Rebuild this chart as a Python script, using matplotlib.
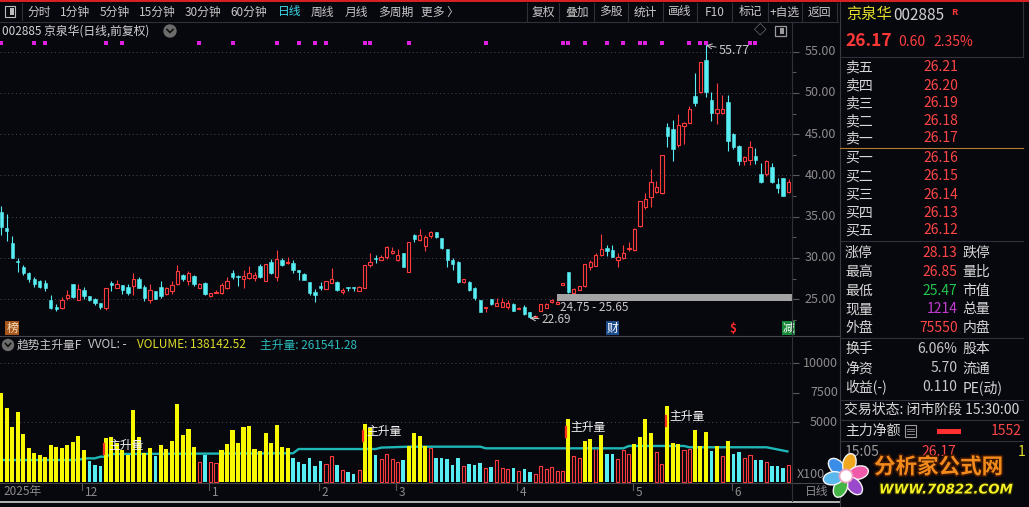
import matplotlib
matplotlib.use('Agg')
import matplotlib.pyplot as plt
import matplotlib.transforms as mtrans
import matplotlib.patheffects as pe
from matplotlib.lines import Line2D
from matplotlib.patches import Rectangle, Ellipse, Circle
import numpy as np

plt.rcParams['font.family'] = ['Noto Sans CJK SC', 'DejaVu Sans']

# ---- daily candles ----
opens = [35.6, 33.6, 31.8, 29.6, 28.9, 28.2, 27.4, 27.2, 27.0, 24.9, 24.1, 23.9,
         25.1, 26.8, 24.9, 26.1, 25.4, 25.0, 24.5, 23.9, 26.95, 26.4, 26.7, 26.5,
         26.6, 27.4, 26.5, 24.9, 26.0, 26.5, 25.6, 26.05, 26.85, 27.9, 27.25, 27.8,
         26.3, 27.0, 25.4, 25.7, 25.7, 26.3, 28.15, 27.8, 27.4, 27.55, 27.55, 29.0,
         27.25, 29.55, 27.65, 29.75, 29.35, 29.35, 28.45, 28.05, 27.1, 25.85, 26.6, 26.2,
         27.0, 27.1, 25.9, 26.4, 26.35, 26.05, 26.4, 29.1, 30.0, 29.75, 30.1, 30.6,
         29.75, 30.55, 28.35, 32.75, 32.15, 31.45, 32.65, 33.2, 32.4, 31.05, 29.75, 29.55,
         27.05, 27.1, 26.3, 24.9, 23.9, 25.0, 24.2, 24.1, 24.0, 24.4, 23.85, 24.1,
         23.5, 22.8, 23.6, 23.95, 24.7, 24.45, 26.75, 28.25, 25.8, 26.1, 26.55, 28.9,
         29.05, 30.35, 31.2, 30.95, 29.75, 29.95, 31.1, 31.0, 33.85, 36.2, 37.4, 38.05,
         37.9, 45.85, 45.6, 43.7, 46.0, 46.3, 49.65, 50.15, 54.0, 49.2, 47.6, 47.6,
         48.9, 45.0, 43.55, 41.7, 41.9, 42.35, 40.15, 40.2, 41.05, 38.95, 39.65, 38.05]
highs = [36.3, 35.3, 32.7, 30.0, 29.1, 28.35, 27.65, 27.3, 27.3, 25.5, 24.4, 25.3,
         26.1, 26.9, 26.9, 26.5, 25.4, 25.2, 24.6, 26.3, 27.25, 27.3, 26.7, 26.8,
         28.15, 27.65, 26.7, 26.8, 26.0, 27.25, 26.45, 27.25, 29.2, 28.05, 28.45, 27.95,
         27.0, 27.1, 25.8, 26.1, 27.0, 27.65, 28.55, 27.95, 28.55, 29.0, 28.35, 29.25,
         29.25, 29.85, 30.95, 29.95, 30.1, 29.75, 28.55, 28.15, 27.1, 26.2, 27.1, 27.25,
         28.8, 27.25, 26.3, 26.5, 26.5, 26.6, 29.15, 30.6, 30.3, 30.3, 31.4, 31.3,
         31.1, 30.6, 31.9, 32.95, 33.5, 32.75, 33.3, 33.2, 32.4, 31.05, 29.95, 29.65,
         27.5, 27.25, 26.5, 24.95, 24.05, 25.0, 25.1, 25.1, 24.95, 24.5, 24.0, 24.3,
         23.5, 23.0, 24.4, 24.5, 25.0, 24.8, 26.95, 28.25, 26.4, 26.6, 29.3, 29.8,
         30.55, 32.9, 31.6, 31.6, 30.55, 31.6, 31.9, 33.65, 36.9, 37.9, 40.75, 39.35,
         42.5, 46.4, 46.7, 47.5, 46.5, 48.4, 52.4, 53.8, 55.77, 50.1, 51.15, 49.7,
         49.8, 45.1, 43.65, 42.35, 44.2, 43.35, 41.5, 41.85, 41.5, 39.7, 39.7, 39.55]
lows = [32.8, 32.0, 30.0, 28.35, 27.9, 27.1, 26.5, 26.3, 26.05, 23.85, 23.6, 23.85,
        24.9, 25.2, 24.9, 25.0, 24.8, 24.35, 23.85, 23.7, 25.95, 26.3, 25.65, 25.55,
        25.55, 26.3, 24.8, 24.6, 25.0, 25.2, 25.45, 25.6, 26.75, 27.2, 26.75, 26.6,
        26.3, 25.45, 25.3, 25.7, 25.6, 26.2, 27.5, 26.6, 26.3, 27.4, 27.25, 27.6,
        27.25, 28.1, 27.25, 29.05, 29.3, 28.15, 27.35, 27.35, 25.55, 24.7, 26.1, 26.2,
        27.0, 26.0, 25.6, 25.95, 25.95, 26.05, 26.4, 28.95, 29.35, 29.75, 29.9, 30.45,
        29.65, 28.85, 28.35, 31.9, 32.05, 30.9, 32.4, 32.4, 31.05, 28.95, 28.55, 27.0,
        27.0, 26.0, 24.95, 23.4, 23.5, 24.3, 24.2, 24.0, 23.85, 23.6, 23.8, 23.05,
        22.69, 22.8, 23.6, 23.9, 24.6, 24.4, 26.75, 25.8, 25.7, 26.1, 26.5, 28.6,
        29.0, 30.2, 30.2, 30.1, 28.95, 29.85, 30.8, 30.9, 33.75, 35.9, 36.2, 37.9,
        37.8, 43.5, 41.8, 43.5, 43.8, 46.3, 48.4, 49.95, 49.5, 46.6, 46.2, 47.4,
        43.0, 43.2, 41.3, 41.3, 41.3, 41.4, 39.1, 39.9, 39.1, 37.9, 37.5, 37.9]
closes = [33.7, 33.3, 30.0, 29.5, 28.2, 27.4, 26.85, 26.45, 26.3, 23.9, 23.85, 24.9,
          25.5, 25.3, 26.2, 25.4, 24.9, 24.6, 24.0, 26.3, 26.75, 26.85, 26.1, 25.8,
          27.5, 26.4, 25.1, 26.1, 25.0, 25.4, 26.3, 26.75, 28.45, 27.4, 28.2, 26.8,
          26.9, 25.6, 25.8, 25.9, 26.75, 27.25, 27.65, 27.65, 27.8, 28.15, 27.95, 27.7,
          29.25, 28.2, 29.85, 29.15, 29.55, 28.55, 28.35, 27.35, 25.7, 25.5, 26.3, 27.25,
          27.4, 26.1, 26.1, 26.3, 26.3, 26.5, 29.15, 29.55, 29.85, 30.15, 31.3, 30.9,
          30.35, 28.95, 31.9, 32.35, 32.75, 32.5, 33.2, 32.5, 31.15, 29.75, 29.25, 27.1,
          27.5, 26.1, 25.1, 23.5, 24.05, 24.4, 24.6, 24.7, 24.5, 23.6, 23.95, 23.2,
          22.8, 22.95, 24.4, 24.4, 24.85, 24.7, 26.95, 25.9, 26.2, 26.55, 29.3, 29.55,
          30.35, 31.05, 30.9, 30.15, 30.1, 30.55, 31.2, 33.55, 36.9, 37.2, 39.25, 38.65,
          42.5, 44.8, 43.15, 46.1, 46.3, 48.1, 48.75, 53.8, 50.15, 47.6, 48.1, 48.1,
          44.2, 43.4, 41.8, 42.2, 43.5, 41.85, 39.25, 41.8, 39.25, 38.45, 37.5, 39.25]

# volume (x100 shares)
volumes = [7520, 6250, 4640, 5910, 4020, 2860, 2440, 2240, 2100, 3090, 2950, 2860,
           3090, 3370, 3850, 2670, 1740, 1400, 1310, 3710, 3790, 3240, 2670, 2240,
           6060, 3740, 2440, 2810, 2160, 3090, 2750, 3430, 6560, 3940, 4450, 2950,
           1630, 2240, 1630, 1540, 2670, 3180, 4360, 3290, 4590, 4730, 2750, 2610,
           4080, 3240, 4790, 2950, 2810, 2020, 1630, 1480, 1960, 1310, 1760, 1480,
           2160, 1400, 970, 780, 635, 970, 4870, 4500, 2240, 1880, 2330, 1900,
           1650, 1820, 3010, 4080, 3850, 3010, 2810, 2020, 2020, 1900, 1400, 2020,
           1310, 1480, 1400, 1590, 1170, 1250, 1820, 1170, 1030, 1170, 915, 1030,
           830, 635, 1310, 1060, 1250, 890, 890, 5290, 2160, 2020, 3430, 3600,
           2900, 3940, 2330, 2330, 1900, 2670, 2330, 3180, 3790, 5290, 4080, 2470,
           1480, 6390, 3240, 3180, 2670, 2750, 4360, 3010, 4170, 2580, 3010, 2160,
           3430, 2330, 2470, 2020, 2240, 1820, 1820, 1630, 1310, 1310, 1170, 1400]

# 1 = bar flagged as "主升" (yellow)
zs_flag = [int(ch) for ch in (
    '1111111111111111' '000' '111111111' '0' '1111111' '0000' '1111111111111'
    '0000000000000' '11' '000000' '1111' '0000000000000000000000000' '1' '00'
    '11' '0' '1' '00000' '1111' '00' '111' '00' '111' '0' '1' '0' '1' '00000000000')]

# 主升量 line vertices (bar index, value)
zs_line_idx = [0, 14, 15, 17, 18, 19, 20, 53, 54, 68, 69, 74, 87, 88, 113, 114, 124, 125, 139, 143]
zs_line_val = [1820, 1820, 1960, 1960, 2100, 2100, 2330, 2390, 2750, 2750, 2870, 2950,
               2950, 2810, 2810, 3010, 3010, 2900, 2900, 2530]

zs_label_idx = [19, 66, 103, 121]
zs_label_val = [3090, 4220, 4560, 5490]

signal_idx = [0, 6, 8, 19, 22, 36, 42, 50, 54, 57, 59, 66, 67, 74, 88, 102, 103,
              106, 110, 113, 116, 117, 120, 125, 127, 128, 136, 137]

month_idx = [15, 38, 58, 72, 94, 115, 133]
month_labels = ['12', '1', '2', '3', '4', '5', '6']

price_ticks = [25, 30, 35, 40, 45, 50, 55]
vol_ticks = [5000, 7500, 10000]

band_start, band_lo, band_hi = 101, 24.75, 25.65
high_idx, low_idx = 128, 96
events = [(2, '榜', '#a8561c', '#f0e0c0'), (111, '财', '#1c4c8c', '#ffffff'),
          (133, '$', None, '#ff2a2a'), (143, '减', '#1a8a3a', '#ffffff')]

vol_value, zs_value = 138142.52, 261541.28

book_names = ['卖五', '卖四', '卖三', '卖二', '卖一', '买一', '买二', '买三', '买四', '买五']
book_prices = [26.21, 26.20, 26.19, 26.18, 26.17, 26.16, 26.15, 26.14, 26.13, 26.12]
quote_names = ['涨停', '最高', '最低', '现量', '外盘', '换手', '净资', '收益(-)']
quote_values = ['28.13', '26.85', '25.47', '1214', '75550', '6.06%', '5.70', '0.110']
quote_names2 = ['跌停', '量比', '市值', '总量', '内盘', '股本', '流通', 'PE(动)']

# ---- style ----
W, H = 1029, 507
BG = '#07070e'
RED = '#ff3b3b'
CYAN = '#56eef2'
YEL = '#f8f800'
TEAL = '#1fb6b6'
GRID = '#4a4a55'
AXT = '#8c8c8c'
TXT = '#c8c8c8'
LINE = '#30303a'

fig = plt.figure(figsize=(W / 100, H / 100), dpi=100, facecolor=BG)


def fx(x):
    return x / W


def fy(y):
    return 1 - y / H


def ftext(x, y, s, **kw):
    kw.setdefault('va', 'center')
    kw.setdefault('color', TXT)
    kw.setdefault('fontsize', 8.5)
    return fig.text(fx(x), fy(y), s, **kw)


def fline(xs, ys, color=LINE, lw=0.8, z=2):
    fig.add_artist(Line2D([fx(v) for v in xs], [fy(v) for v in ys], color=color, lw=lw, zorder=z))


def frect(x0, y0, x1, y1, z=1, **kw):
    fig.add_artist(Rectangle((fx(x0), fy(y1)), fx(x1) - fx(x0), fy(y0) - fy(y1),
                             transform=fig.transFigure, zorder=z, **kw))


# ---- axes ----
xl = (-1.3 / 5.505, (792 - 1.3) / 5.505)
axp = fig.add_axes([0, fy(336), fx(792), (336 - 38) / H])
axv = fig.add_axes([0, fy(483), fx(792), (483 - 337) / H])
for ax in (axp, axv):
    ax.set_facecolor(BG)
    ax.set_xlim(*xl)
    ax.set_xticks([])
    for s in ax.spines.values():
        s.set_visible(False)
axp.set_ylim(20.54, 56.66)
axv.set_ylim(-127, 12240)

x = np.arange(len(closes))
o, h, l, c = (np.array(a) for a in (opens, highs, lows, closes))
up = c >= o
bot = np.minimum(o, c)
ht = np.maximum(np.abs(c - o), 0.13)

for p in price_ticks:
    axp.axhline(p, color=GRID, lw=0.7, ls=(0, (1, 3)), zorder=0)
axp.vlines(x[up], l[up], h[up], color=RED, lw=0.8, zorder=2)
axp.vlines(x[~up], l[~up], h[~up], color=CYAN, lw=0.8, zorder=2)
axp.bar(x[up], ht[up], 0.6, bot[up], facecolor=BG, edgecolor=RED, lw=0.8, zorder=3)
axp.bar(x[~up], ht[~up], 0.6, bot[~up], color=CYAN, edgecolor=CYAN, lw=0.4, zorder=3)

# signal dots
tdot = mtrans.blended_transform_factory(axp.transData, axp.transAxes)
axp.scatter(signal_idx, [0.983] * len(signal_idx), s=7, marker='s', color='#e020e0',
            transform=tdot, zorder=4, lw=0)

# range band
axp.add_patch(Rectangle((band_start - 0.05, band_lo), xl[1] - band_start, band_hi - band_lo,
                        color='#a4a4a4', lw=0, zorder=4))
axp.annotate(f'{band_lo:.2f} - {band_hi:.2f}', (band_start, band_lo), xytext=(3, -6.5),
             textcoords='offset pixels', ha='left', va='center', color=TXT, fontsize=8.5)

# high / low marks
axp.annotate(f'{highs[high_idx]:.2f}', (high_idx, highs[high_idx]), xytext=(13, -5),
             textcoords='offset pixels', ha='left', va='center', color=TXT, fontsize=9,
             arrowprops=dict(arrowstyle='->', color=TXT, lw=0.7, shrinkA=0, shrinkB=0))
axp.annotate(f'{lows[low_idx]:.2f}', (low_idx, lows[low_idx]), xytext=(12, -1),
             textcoords='offset pixels', ha='left', va='center', color=TXT, fontsize=8.5,
             arrowprops=dict(arrowstyle='->', color=TXT, lw=0.7, shrinkA=0, shrinkB=0))

# event markers
tev = mtrans.blended_transform_factory(axp.transData, fig.transFigure)
for i, s, bc, tc in events:
    kw = {}
    if bc:
        kw['bbox'] = dict(boxstyle='square,pad=0.08', fc=bc, ec='none')
    axp.text(i, fy(328), s, transform=tev, ha='center', va='center', color=tc,
             fontsize=8.5, fontweight='bold' if s == '$' else 'normal', zorder=6, **kw)

# price axis ticks / labels
axp.yaxis.tick_right()
axp.set_yticks(price_ticks)
axp.set_yticks([p + 2.5 for p in price_ticks[:-1]] + [22.5], minor=True)
axp.tick_params(axis='y', which='major', length=5, width=0.8, color='#5a5a5a',
                labelright=False, labelleft=False, direction='out')
axp.tick_params(axis='y', which='minor', length=3, width=0.8, color='#5a5a5a', direction='out')
tp = mtrans.blended_transform_factory(fig.transFigure, axp.transData)
for p in price_ticks:
    axp.text(fx(836), p, f'{p:.2f}', transform=tp, ha='right', va='center',
             color=AXT, fontsize=9, clip_on=False)

# ---- volume ----
vol = np.array(volumes)
zs = np.array(zs_flag, bool)
cy = ~zs & ~up
rd = ~zs & up
for v in (5000, 10000):
    axv.axhline(v, color=GRID, lw=0.7, ls=(0, (1, 3)), zorder=0)
axv.bar(x[cy], vol[cy], 0.64, color=CYAN, lw=0, zorder=2)
axv.bar(x[rd], vol[rd], 0.58, facecolor=BG, edgecolor=RED, lw=0.8, zorder=2)
axv.plot(zs_line_idx, zs_line_val, color=TEAL, lw=1.7, zorder=3, solid_capstyle='butt')
axv.bar(x[zs], vol[zs], 0.74, color=YEL, lw=0, zorder=4)
for i, v in zip(zs_label_idx, zs_label_val):
    axv.plot([i - 0.33, i - 0.33], [v - 750, v + 80], color='#ff3020', lw=1.6, zorder=5)
    axv.text(i + 0.4, v, '主升量', color='#f4f4f4', fontsize=8.5, ha='left', va='center', zorder=6)

axv.yaxis.tick_right()
axv.set_yticks(vol_ticks)
axv.tick_params(axis='y', length=5, width=0.8, color='#5a5a5a', labelright=False,
                labelleft=False, direction='out')
tv = mtrans.blended_transform_factory(fig.transFigure, axv.transData)
for v in vol_ticks:
    axv.text(fx(838), v, str(v), transform=tv, ha='right', va='center', color=AXT,
             fontsize=9, clip_on=False)
ftext(797, 474, 'X100', color=AXT, fontsize=9)

# date axis
td = mtrans.blended_transform_factory(axv.transData, fig.transFigure)
for i, lab in zip(month_idx, month_labels):
    axv.plot([i - 0.3, i - 0.3], [fy(483), fy(490)], color='#5a5a5a', lw=0.8,
             transform=td, clip_on=False)
    axv.text(i + 0.2, fy(492), lab, transform=td, ha='left', va='center', color=AXT,
             fontsize=8.5, clip_on=False)
ftext(3, 492, '2025年', color=AXT)
ftext(805, 492, '日线', color=AXT)

# ---- frame lines ----
frect(0, 0, W, 2, color='#d42020', lw=0, z=3)
fline([0, 838], [22, 22])
fline([0, 840], [336, 336], color='#44444c')
fline([0, 840], [483, 483], color='#44444c')
fline([0, 840], [501.5, 501.5], color='#b4b4b4', lw=1.4)
fline([792, 792], [22, 501])
fline([840, 840], [2, 507], color='#3a3a44')
fline([1023, 1023], [2, 57])
for yy in (57, 241, 338, 400, 420, 441):
    fline([840, 1023], [yy, yy])
fline([840, 1023], [148, 148], color='#b87a30')

# ---- toolbar ----
frect(5, 6, 15, 17, fill=False, ec='#bcbcbc', lw=0.8, z=3)
frect(10, 8, 13.5, 15, color='#bcbcbc', lw=0, z=3)
fline([22, 22], [3, 20])
for s, xx in [('分时', 27), ('1分钟', 60), ('5分钟', 100), ('15分钟', 139), ('30分钟', 185),
              ('60分钟', 230), ('日线', 278), ('周线', 311), ('月线', 345), ('多周期', 378),
              ('更多 〉', 421)]:
    ftext(xx, 12, s, color='#3ad8e8' if s == '日线' else TXT)
for xx in (527, 559, 594, 628, 663, 697, 732, 768, 802, 837):
    fline([xx, xx], [3, 21])
for s, xx in [('复权', 543), ('叠加', 577), ('多股', 611), ('统计', 645), ('画线', 680),
              ('F10', 714.5), ('标记', 750), ('+自选', 785), ('返回', 819.5)]:
    ftext(xx, 12, s, ha='center')

# title row
ftext(2, 31, '002885 京泉华(日线,前复权)', color='#d2d2d2')
fig.add_artist(Ellipse((fx(170), fy(31)), 12 / W, 12 / H, transform=fig.transFigure,
                       color='#6c6c6c', zorder=3))
fline([167, 170, 173], [29.5, 32.5, 29.5], color='#101010', lw=1.2, z=4)
ftext(760, 31, '◇', color='#9a9a9a', ha='center', fontsize=9)
frect(775, 26, 786, 36, fill=False, ec='#9a9a9a', lw=0.9, z=3)
frect(780, 28, 784, 34, color='#9a9a9a', lw=0, z=3)

# volume header
fig.add_artist(Ellipse((fx(8), fy(345)), 11 / W, 11 / H, transform=fig.transFigure,
                       color='#6c6c6c', zorder=3))
fline([5.5, 8, 10.5], [343.5, 346.5, 343.5], color='#101010', lw=1.2, z=4)
ftext(17, 345, '趋势主升量F', color=TXT)
ftext(88, 345, 'VVOL: -', color=TXT)
ftext(137, 345, f'VOLUME: {vol_value:.2f}', color='#dede2a')
ftext(260, 345, f'主升量: {zs_value:.2f}', color='#2cbcbc')

# ---- right quote panel ----
ftext(846, 15, '京泉华', color='#e6e02a', fontsize=11)
ftext(893, 15, '002885', color='#d2d2d2', fontsize=11)
ftext(951, 12.5, 'R', color='#ff3838', fontsize=6.5, fontweight='bold')
ftext(845, 41.5, '26.17', color='#ff3838', fontsize=12.5, fontweight='bold')
ftext(898, 42, '0.60', color='#ff4040', fontsize=10)
ftext(933, 42, '2.35%', color='#ff4040', fontsize=10)

book_y = [67, 85.5, 103.3, 121, 138.5, 157.7, 176.5, 195, 212.7, 230.5]
for s, p, yy in zip(book_names, book_prices, book_y):
    ftext(845, yy, s, color='#d8d8d8', fontsize=10)
    ftext(923, yy, f'{p:.2f}', color='#ff4646', fontsize=10)

quote_y = [252.7, 271.7, 290.7, 309.3, 328.3, 349.3, 368.3, 387.3]
quote_colors = ['#ff4646', '#ff4646', '#22c44a', '#c23cd4', '#ff4646', TXT, TXT, TXT]
for s, v, s2, col, yy in zip(quote_names, quote_values, quote_names2, quote_colors, quote_y):
    ftext(845, yy, s, color='#d8d8d8', fontsize=10)
    ftext(957.5, yy, v, color=col, fontsize=10, ha='right')
    ftext(962.5, yy, s2, color='#d8d8d8', fontsize=10)

ftext(844, 410, '交易状态: 闭市阶段 15:30:00', color='#d8d8d8', fontsize=10)
ftext(845, 431, '主力净额', color='#d8d8d8', fontsize=10)
frect(905, 425, 916, 437, fill=False, ec='#9a9a9a', lw=0.8, z=3)
for yy in (428.5, 431, 433.5):
    fline([907, 914], [yy, yy], color='#9a9a9a', lw=0.6, z=3)
frect(937, 428.5, 961, 433.5, color='#ff3030', lw=0, z=3)
ftext(1022, 431, '1552', color='#ff4646', fontsize=10, ha='right')
ftext(845, 452, '15:05', color='#9a9a9a', fontsize=10)
ftext(921, 452, '26.17', color='#ff4646', fontsize=10)
ftext(1018, 452, '1', color='#e6e02a', fontsize=10)

# ---- watermark ----
lax = fig.add_axes([fx(818), fy(504), 56 / W, 56 / H])
lax.set_xlim(0, 56)
lax.set_ylim(0, 56)
lax.axis('off')
lax.set_zorder(10)
for ang, col in [(135, '#3a8ee8'), (75, '#f0a820'), (15, '#f05aa8'), (-50, '#9a48cc'),
                 (-115, '#44b444'), (-170, '#5ab8ec')]:
    r = np.deg2rad(ang)
    lax.add_patch(Ellipse((28 + 13 * np.cos(r), 28 + 13 * np.sin(r)), 20, 13, angle=ang,
                          fc=col, ec='#f4f4f4', lw=1.0))
lax.add_patch(Circle((28, 28), 6.5, fc='#ffffff', ec='#f0a0c0', lw=1.2))
ftext(874, 467, '分析家公式网', color='#f28a1c', fontsize=15.5, fontweight='bold', zorder=11,
      path_effects=[pe.withStroke(linewidth=2.5, foreground='#3a1600')])
ftext(879, 490, 'WWW.70822.COM', color='#f4f024', fontsize=9.6, fontweight='bold',
      fontstyle='italic', family='DejaVu Sans', zorder=11,
      path_effects=[pe.withStroke(linewidth=2, foreground='#1e1e00')])

fig.savefig('out.png', dpi=100, facecolor=BG)
